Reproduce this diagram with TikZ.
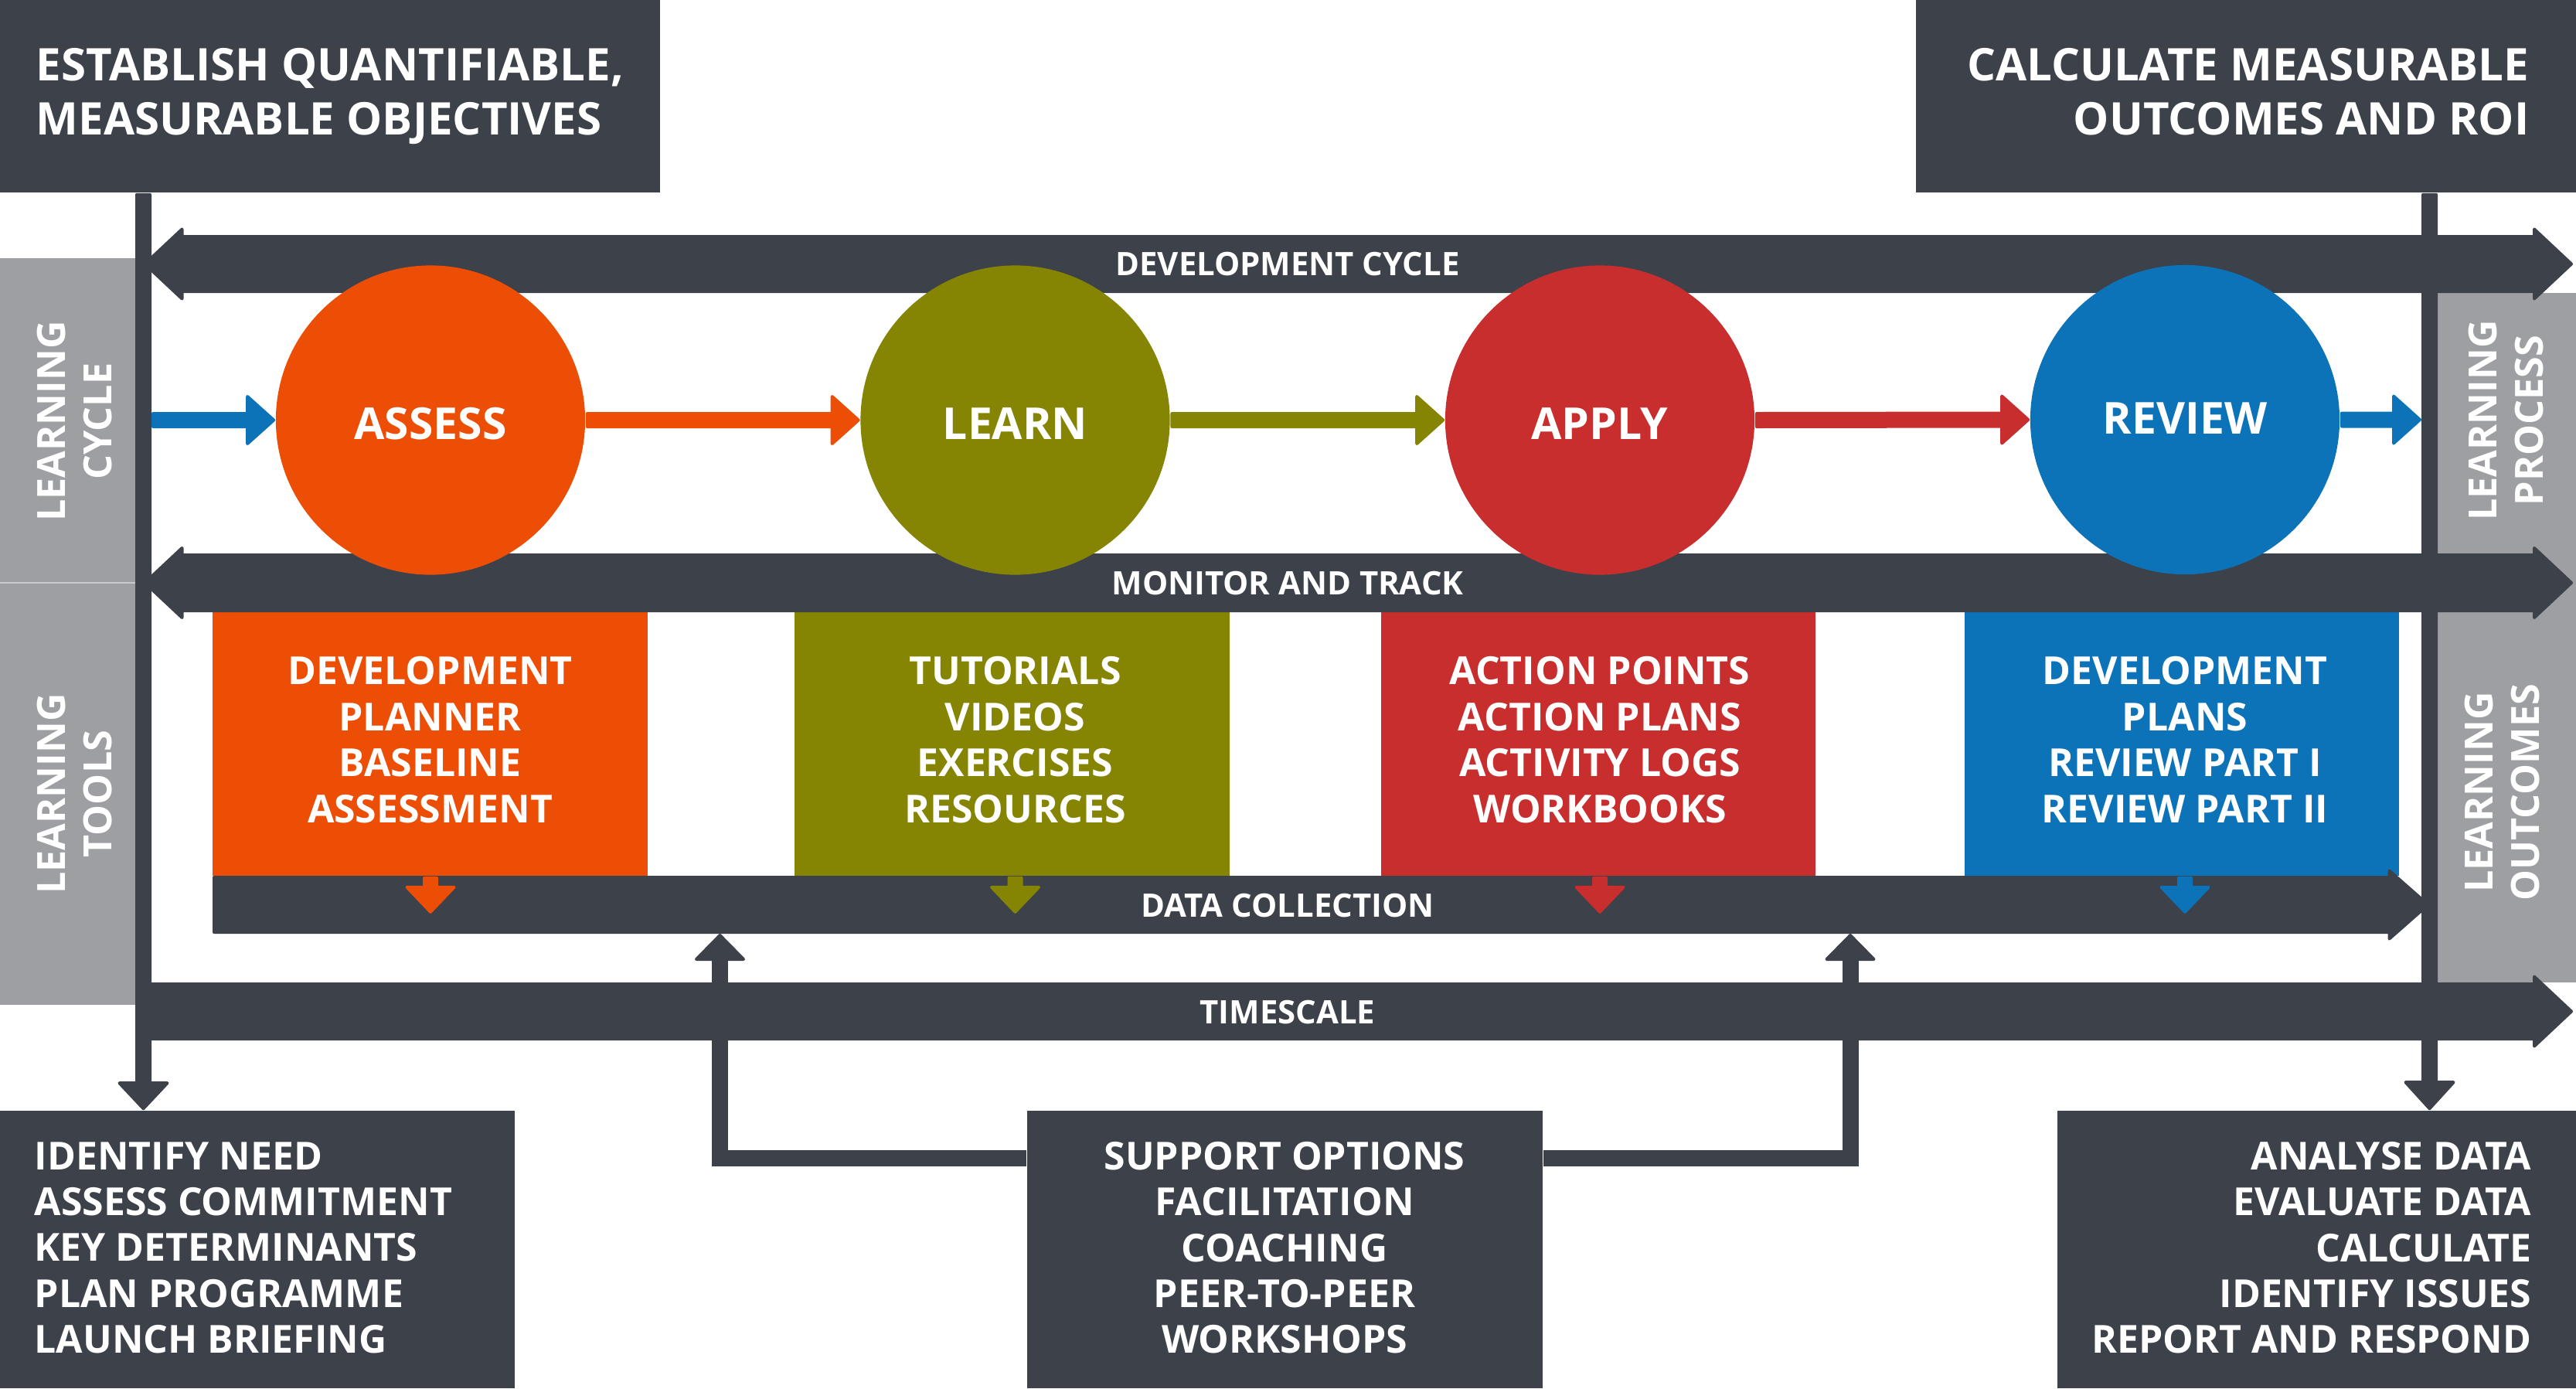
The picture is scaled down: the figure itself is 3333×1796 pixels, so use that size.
\documentclass[tikz,border=0pt]{standalone}
\usepackage{fontspec}
\setmainfont{Open Sans}
\usetikzlibrary{calc}
\definecolor{dk}{HTML}{3C414A}
\definecolor{gr}{HTML}{9D9FA3}
\definecolor{grl}{HTML}{C8C9CC}
\definecolor{cor}{HTML}{EC4E05}
\definecolor{col}{HTML}{858503}
\definecolor{cre}{HTML}{C82E2D}
\definecolor{cbl}{HTML}{0C73B8}
\newcommand\fTop{\fontsize{16.55pt}{19.9pt}\selectfont\bfseries}
\newcommand\fCirc{\fontsize{16.2pt}{19pt}\selectfont\bfseries}
\newcommand\fBoxT{\fontsize{14.2pt}{16.93pt}\selectfont\bfseries}
\newcommand\fBot{\fontsize{14.2pt}{16.84pt}\selectfont\bfseries}
\newcommand\fSide{\fontsize{14.3pt}{17.07pt}\selectfont\bfseries}
\newcommand\fBar{\fontsize{11.9pt}{14pt}\selectfont\bfseries}
% horizontal arrow: color, start, tip, shaft half, head length, head half
\newcommand\hArrow[6]{%
  \filldraw[#1, line width=0.04cm, line join=round]
  ($(#2)+(2,-#4+2)$) -- ($(#3)+(-#5,-#4+2)$) -- ($(#3)+(-#5,-#6+2)$) -- ($(#3)+(-2,0)$)
  -- ($(#3)+(-#5,#6-2)$) -- ($(#3)+(-#5,#4-2)$) -- ($(#2)+(2,#4-2)$) -- cycle;}
% double headed bar: color, left tip, right tip, half, head length, head half
\newcommand\dBar[6]{%
  \filldraw[#1, line width=0.04cm, line join=round]
  ($(#2)+(2,0)$) -- ($(#2)+(#5,-#6+2)$) -- ($(#2)+(#5,-#4+2)$) -- ($(#3)+(-#5,-#4+2)$)
  -- ($(#3)+(-#5,-#6+2)$) -- ($(#3)+(-2,0)$) -- ($(#3)+(-#5,#6-2)$) -- ($(#3)+(-#5,#4-2)$)
  -- ($(#2)+(#5,#4-2)$) -- ($(#2)+(#5,#6-2)$) -- cycle;}
% downward arrow: color, start (top), tip (bottom), shaft half, head length, head half
\newcommand\dArrow[6]{%
  \filldraw[#1, line width=0.04cm, line join=round]
  ($(#2)+(-#4+2,2)$) -- ($(#3)+(-#4+2,-#5)$) -- ($(#3)+(-#6+2,-#5)$) -- ($(#3)+(0,-2)$)
  -- ($(#3)+(#6-2,-#5)$) -- ($(#3)+(#4-2,-#5)$) -- ($(#2)+(#4-2,2)$) -- cycle;}
\tikzset{
  dkbox/.style={rectangle, fill=dk, draw=none, inner sep=0pt},
  cbox/.style={rectangle, minimum width=5.62cm, minimum height=3.41cm, inner sep=0pt, draw=none},
  circ/.style={circle, minimum size=4cm, inner sep=0pt, draw=none},
  ctxt/.style={text=white, font=\fCirc, inner sep=0pt},
  ttxt/.style={text=white, font=\fTop, inner sep=0pt, text depth=0pt},
  btxt/.style={text=white, font=\fBoxT, align=center, inner sep=0pt, text depth=0pt},
  ltxt/.style={text=white, font=\fBot, inner sep=0pt, text depth=0pt},
  stxt/.style={text=white, font=\fSide, align=center, inner sep=0pt, rotate=90, text depth=0pt},
  bartxt/.style={text=white, font=\fBar, inner sep=0pt},
}
\begin{document}
\begin{tikzpicture}[x=0.01cm, y=-0.01cm]
\useasboundingbox (0,0) rectangle (3333,1796);
% side panels
\fill[gr] (0,334) rectangle (175,1300);
\draw[grl, line width=0.02cm] (0,754) -- (175,754);
\fill[gr] (3154,379) rectangle (3333,1271);
% top and bottom boxes
\node[dkbox, minimum width=8.54cm, minimum height=2.49cm] (obj) at (427,124.5) {};
\node[dkbox, minimum width=8.54cm, minimum height=2.49cm] (roi) at (2906,124.5) {};
\node[dkbox, minimum width=6.66cm, minimum height=3.59cm] (needs) at (333,1616.5) {};
\node[dkbox, minimum width=6.67cm, minimum height=3.59cm] (support) at (1662.5,1616.5) {};
\node[dkbox, minimum width=6.71cm, minimum height=3.59cm] (analyse) at (2997.5,1616.5) {};
% coloured boxes
\node[cbox, fill=cor] (obox) at (556.5,962.5) {};
\node[cbox, fill=col] (gbox) at (1309.5,962.5) {};
\node[cbox, fill=cre] (rbox) at (2068,962.5) {};
\node[cbox, fill=cbl] (bbox) at (2823,962.5) {};
% coordinates
\coordinate (lineL) at (185.5,0);
\coordinate (lineR) at (3143.5,0);
\coordinate (devL) at (185.5,341.5);
\coordinate (devR) at (3329,341.5);
\coordinate (monL) at (185.5,754);
\coordinate (monR) at (3329,754);
\coordinate (dcS) at (275,1170.5);
\coordinate (dcR) at (3143.5,1170.5);
\coordinate (tsS) at (185.5,1308.5);
\coordinate (tsR) at (3329,1308.5);
% bars
\dBar{dk}{devL}{devR}{37.5}{50}{47}
\dBar{dk}{monL}{monR}{38}{50}{47}
\hArrow{dk}{dcS}{dcR}{37.5}{52}{46}
\hArrow{dk}{tsS}{tsR}{37.5}{50}{47}
% circles (on top of the bars)
\node[circ, fill=cor] (assess) at (557,543.5) {};
\node[circ, fill=col] (learn) at (1313.5,543.5) {};
\node[circ, fill=cre] (apply) at (2070,543.5) {};
\node[circ, fill=cbl] (review) at (2827,543) {};
% vertical lines
\coordinate (vLs) at (obj.south -| lineL);
\coordinate (vLt) at (needs.north -| lineL);
\coordinate (vRs) at (roi.south -| lineR);
\coordinate (vRt) at (analyse.north -| lineR);
\dArrow{dk}{vLs}{vLt}{10.5}{35}{33}
\dArrow{dk}{vRs}{vRt}{10.5}{36}{33}
% data collection arrows
\coordinate (os) at (obox.south -| assess);
\coordinate (gs) at (gbox.south -| learn);
\coordinate (rs) at (rbox.south -| apply);
\coordinate (bs) at (bbox.south -| review);
\coordinate (otip) at ($(os)+(0,48)$);
\coordinate (gtip) at ($(gs)+(0,48)$);
\coordinate (rtip) at ($(rs)+(0,48)$);
\coordinate (btip) at ($(bs)+(0,48)$);
\dArrow{cor}{os}{otip}{10}{34}{32.5}
\dArrow{col}{gs}{gtip}{10}{34}{32.5}
\dArrow{cre}{rs}{rtip}{10}{34}{32.5}
\dArrow{cbl}{bs}{btip}{10}{34}{32.5}
% support connectors
\coordinate (cy) at (0,1498);
\coordinate (upL) at (931.5,1208);
\coordinate (upR) at (2394,1208);
\draw[dk, line width=0.21cm] (support.west |- cy) -| ($(upL)+(0,34)$);
\draw[dk, line width=0.21cm] (support.east |- cy) -| ($(upR)+(0,34)$);
\filldraw[dk, line width=0.04cm, line join=round] ($(upL)+(-30.5,33)$) -- ($(upL)+(0,2)$) -- ($(upL)+(30.5,33)$) -- cycle;
\filldraw[dk, line width=0.04cm, line join=round] ($(upR)+(-30.5,33)$) -- ($(upR)+(0,2)$) -- ($(upR)+(30.5,33)$) -- cycle;
% circle connectors
\coordinate (inS) at (196,543.5);
\coordinate (outE) at (3133,543);
\hArrow{cbl}{inS}{assess.west}{10.5}{36}{32.5}
\hArrow{cor}{assess.east}{learn.west}{10.5}{36}{32.5}
\hArrow{col}{learn.east}{apply.west}{10.5}{36}{32.5}
\hArrow{cre}{apply.east}{review.west}{10.5}{36}{32.5}
\hArrow{cbl}{review.east}{outE}{10.5}{36}{32.5}
% circle texts
\node[ctxt] (assesst) at ($(assess)+(0,4.5)$) {ASSESS};
\node[ctxt] (learnt) at ($(learn)+(0,4.5)$) {LEARN};
\node[ctxt] (applyt) at ($(apply)+(0,4.5)$) {APPLY};
\node[ctxt] (reviewt) at ($(review)+(0,-1.5)$) {REVIEW};
% bar labels
\node[bartxt] (devt) at (1666,342) {DEVELOPMENT CYCLE};
\node[bartxt] (mont) at (1666,755) {MONITOR AND TRACK};
\node[bartxt] (dct) at (1666,1172) {DATA COLLECTION};
\node[bartxt] (tst) at (1666,1309.5) {TIMESCALE};
% side labels
\node[stxt] (lcyc) at (96,545) {LEARNING\\CYCLE};
\node[stxt] (ltools) at (96,1027) {LEARNING\\TOOLS};
\node[stxt] (lproc) at (3242,544) {LEARNING\\PROCESS};
\node[stxt] (lout) at (3237,1025) {LEARNING\\OUTCOMES};
% top texts
\node[ttxt, align=left, anchor=west] (objt) at (46,118.5) {ESTABLISH QUANTIFIABLE,\\MEASURABLE OBJECTIVES};
\node[ttxt, align=right, anchor=east] (roit) at (3273,118.5) {CALCULATE MEASURABLE\\OUTCOMES AND ROI};
% coloured box texts
\node[btxt] (obt) at ($(obox)+(0,-5.75)$) {DEVELOPMENT\\PLANNER\\BASELINE\\ASSESSMENT};
\node[btxt] (gbt) at ($(learn |- gbox)+(0,-5.75)$) {TUTORIALS\\VIDEOS\\EXERCISES\\RESOURCES};
\node[btxt] (rbt) at ($(apply |- rbox)+(0,-5.75)$) {ACTION POINTS\\ACTION PLANS\\ACTIVITY LOGS\\WORKBOOKS};
\node[btxt] (bbt) at ($(review |- bbox)+(0,-5.75)$) {DEVELOPMENT\\PLANS\\REVIEW PART I\\REVIEW PART II};
% bottom texts
\node[ltxt, align=left, anchor=west] (needst) at (44,1614) {IDENTIFY NEED\\ASSESS COMMITMENT\\KEY DETERMINANTS\\PLAN PROGRAMME\\LAUNCH BRIEFING};
\node[ltxt, align=center] (supportt) at (1662,1614) {SUPPORT OPTIONS\\FACILITATION\\COACHING\\PEER-TO-PEER\\WORKSHOPS};
\node[ltxt, align=right, anchor=east] (analyset) at (3276,1614) {ANALYSE DATA\\EVALUATE DATA\\CALCULATE\\IDENTIFY ISSUES\\REPORT AND RESPOND};
\end{tikzpicture}
\end{document}
